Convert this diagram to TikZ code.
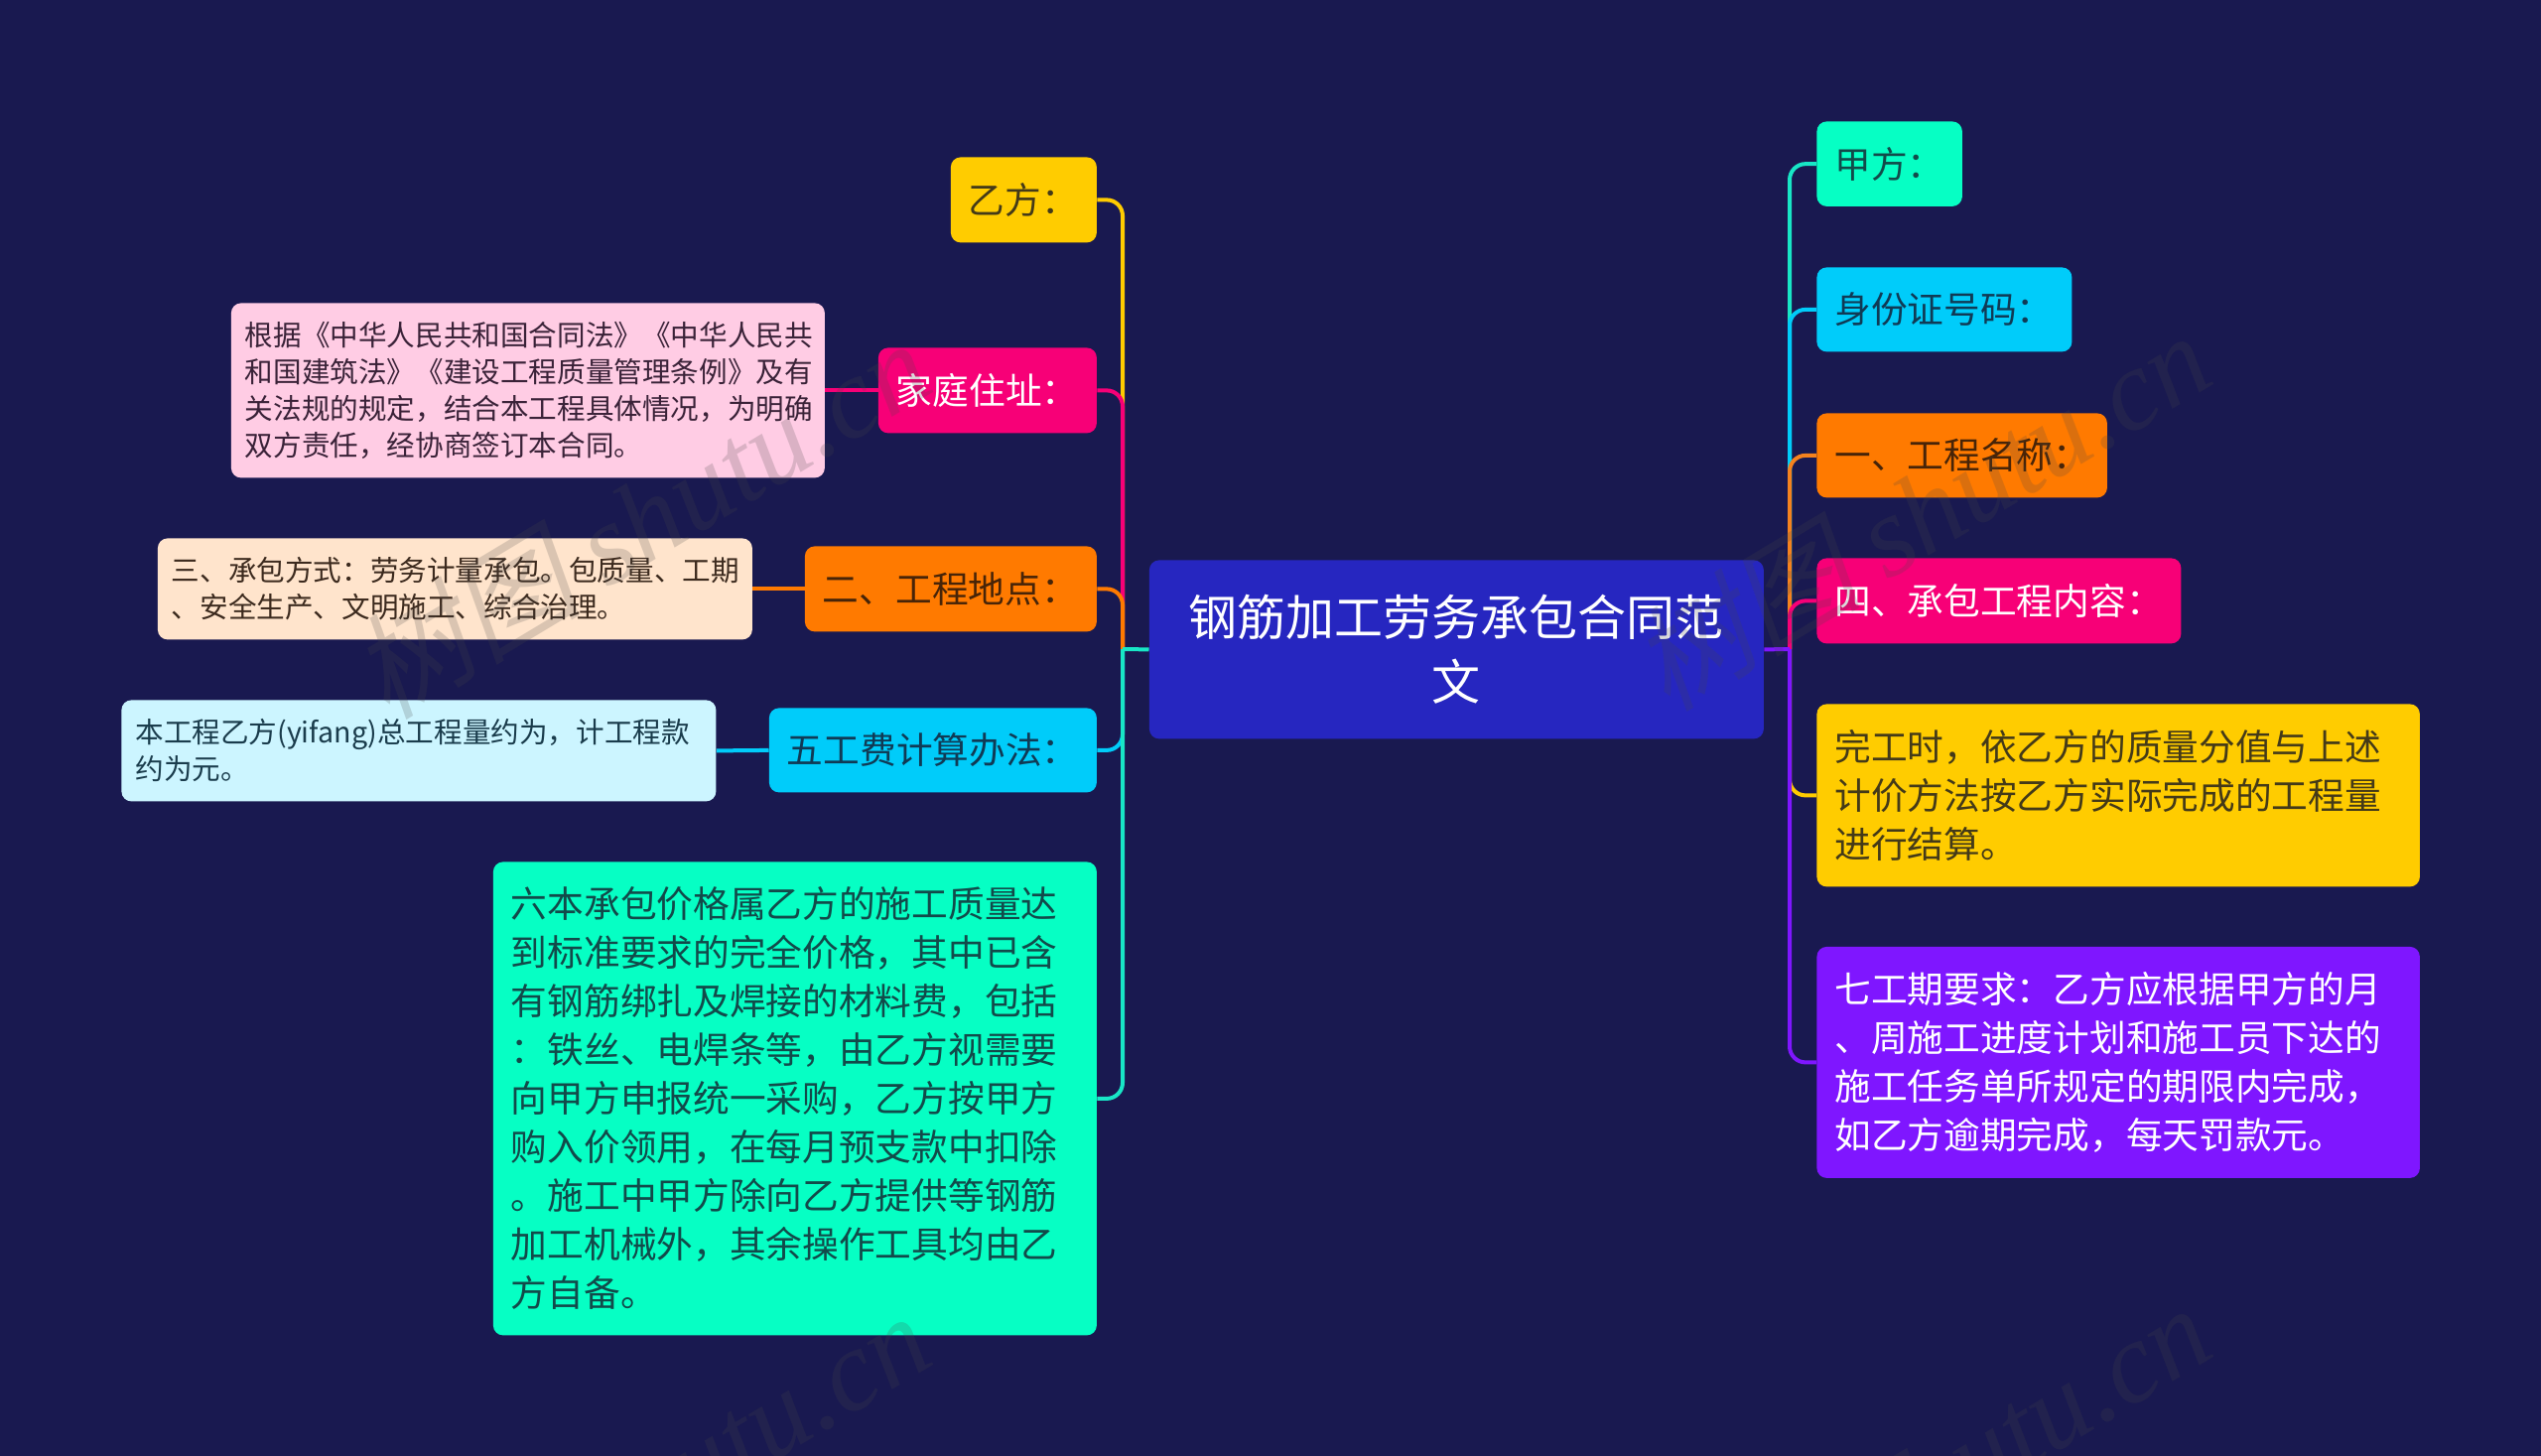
\documentclass[tikz,border=0pt]{standalone}
\usepackage{fontspec}
\setmainfont{Noto Sans CJK SC}
\newfontfamily\wmlatin{Liberation Serif}
\newfontfamily\wmcjk[FakeSlant=0.2]{Noto Sans CJK SC}
\definecolor{bgc}{HTML}{191950}
\definecolor{rootc}{HTML}{2626C0}
\definecolor{greenc}{HTML}{06FFC4}
\definecolor{cyanc}{HTML}{00CCFA}
\definecolor{orangec}{HTML}{FF7A00}
\definecolor{magc}{HTML}{F70077}
\definecolor{yelc}{HTML}{FFCC00}
\definecolor{purc}{HTML}{7F16FF}
\definecolor{pinkc}{HTML}{FFCCE4}
\definecolor{creamc}{HTML}{FFE4CC}
\definecolor{icec}{HTML}{CCF5FF}
\definecolor{greenline}{HTML}{18E6C6}
\definecolor{orangeline}{HTML}{F5821E}
\definecolor{txtgreen}{HTML}{124A4A}
\definecolor{txtcyan}{HTML}{103A55}
\definecolor{txtorange}{HTML}{472408}
\definecolor{txtyel}{HTML}{443A18}
\definecolor{txtpink}{HTML}{3A2238}
\definecolor{txtcream}{HTML}{3C2A1E}
\definecolor{txtice}{HTML}{1A3C4C}
\tikzset{
  x=0.5pt,y=-0.5pt,
  box/.style={rectangle,rounded corners=5pt,anchor=north west,inner xsep=9pt,inner ysep=0pt,align=left,
    font=\fontsize{18.35}{24.5}\selectfont},
  small/.style={box,inner xsep=7pt,font=\fontsize{14.3}{18.5}\selectfont},
  link/.style={line width=2pt},
  curved/.style={link,rounded corners=8pt},
  wm/.style={rotate=31,text=black!72,opacity=.2,font=\fontsize{58}{58}\selectfont}
}
\begin{document}
\begin{tikzpicture}
\useasboundingbox (0,0) rectangle (2560,1467);
\fill[bgc] (0,0) rectangle (2560,1467);
\node[box,fill=rootc,text=white,anchor=north west,inner xsep=0pt,text width=309.5pt,minimum height=90pt,align=center,font=\fontsize{24.5}{32.5}\selectfont] (root) at (1157.5,564) {钢筋加工劳务承包合同范\\文};
\coordinate (rs) at (1803,654);
\coordinate (ls) at (1131,654);
% right
\node[box,fill=greenc,text=txtgreen,text width=55.25pt,minimum height=42.75pt] (a) at (1830,122) {甲方：};
\node[box,fill=cyanc,text=txtcyan,text width=110.5pt,minimum height=42.5pt] (b) at (1830,269) {身份证号码：};
\node[box,fill=orangec,text=txtorange,text width=128.25pt,minimum height=42.5pt] (c) at (1830,416) {一、工程名称：};
\node[box,fill=magc,text=white,text width=165.5pt,minimum height=43pt] (d) at (1830,562) {四、承包工程内容：};
\node[box,fill=yelc,text=txtyel,text width=285.75pt,minimum height=92pt] (e) at (1830,709) {完工时，依乙方的质量分值与上述\\计价方法按乙方实际完成的工程量\\进行结算。};
\node[box,fill=purc,text=white,text width=285.75pt,minimum height=116.5pt] (f) at (1830,953.5) {七工期要求：乙方应根据甲方的月\\、周施工进度计划和施工员下达的\\施工任务单所规定的期限内完成，\\如乙方逾期完成，每天罚款元。};
% left
\node[box,fill=yelc,text=txtyel,text width=55.5pt,minimum height=43pt] (g) at (957.5,158) {乙方：};
\node[box,fill=magc,text=white,text width=92pt,minimum height=43pt] (h) at (884.5,350) {家庭住址：};
\node[box,fill=orangec,text=txtorange,text width=129pt,minimum height=43pt] (i) at (810.5,550) {二、工程地点：};
\node[box,fill=cyanc,text=txtcyan,text width=147pt,minimum height=42.5pt] (j) at (774.5,713) {五工费计算办法：};
\node[box,fill=greenc,text=txtgreen,text width=286pt,minimum height=238.5pt] (k) at (496.5,868) {六本承包价格属乙方的施工质量达\\到标准要求的完全价格，其中已含\\有钢筋绑扎及焊接的材料费，包括\\：铁丝、电焊条等，由乙方视需要\\向甲方申报统一采购，乙方按甲方\\购入价领用，在每月预支款中扣除\\。施工中甲方除向乙方提供等钢筋\\加工机械外，其余操作工具均由乙\\方自备。};
\node[small,fill=pinkc,text=txtpink,text width=285pt,minimum height=88pt] (l) at (232.5,305) {根据《中华人民共和国合同法》《中华人民共\\和国建筑法》《建设工程质量管理条例》及有\\关法规的规定，结合本工程具体情况，为明确\\双方责任，经协商签订本合同。};
\node[small,fill=creamc,text=txtcream,text width=285.5pt,minimum height=51pt] (m) at (158.5,542) {三、承包方式：劳务计量承包。包质量、工期\\、安全生产、文明施工、综合治理。};
\node[small,fill=icec,text=txtice,text width=285.5pt,minimum height=51pt] (n) at (122,705) {本工程乙方(yifang)总工程量约为，计工程款\\约为元。};
% connectors right
\draw[curved,greenline] (rs) |- (a.west);
\draw[curved,cyanc] (rs) |- (b.west);
\draw[curved,orangeline] (rs) |- (c.west);
\draw[curved,magc] (rs) |- (d.west);
\draw[curved,yelc] (rs) |- (e.west);
\draw[curved,purc] (rs) |- (f.west);
\draw[link,purc] (root.east) -- (rs);
% connectors left
\draw[curved,yelc] (ls) |- (g.east);
\draw[curved,magc] (ls) |- (h.east);
\draw[curved,orangec] (ls) |- (i.east);
\draw[curved,cyanc] (ls) |- (j.east);
\draw[curved,greenline] (ls) |- (k.east);
\draw[link,greenline] (root.west) -- (ls);
% leaves
\draw[link,magc] (h.west) -- (l.east);
\draw[link,orangec] (i.west) -- (m.east);
\draw[link,cyanc] (j.west) -- (n.east);
% watermark
\begin{scope}
\clip (0,0) rectangle (2560,1467);
\node[wm] (w1) at (645,522) {{\wmcjk 树图} {\wmlatin\itshape shutu.cn}};
\node[wm] (w2) at (1935,514) {{\wmcjk 树图} {\wmlatin\itshape shutu.cn}};
\node[wm] (w3) at (645,1502) {{\wmcjk 树图} {\wmlatin\itshape shutu.cn}};
\node[wm] (w4) at (1935,1494) {{\wmcjk 树图} {\wmlatin\itshape shutu.cn}};
\end{scope}
\end{tikzpicture}
\end{document}
